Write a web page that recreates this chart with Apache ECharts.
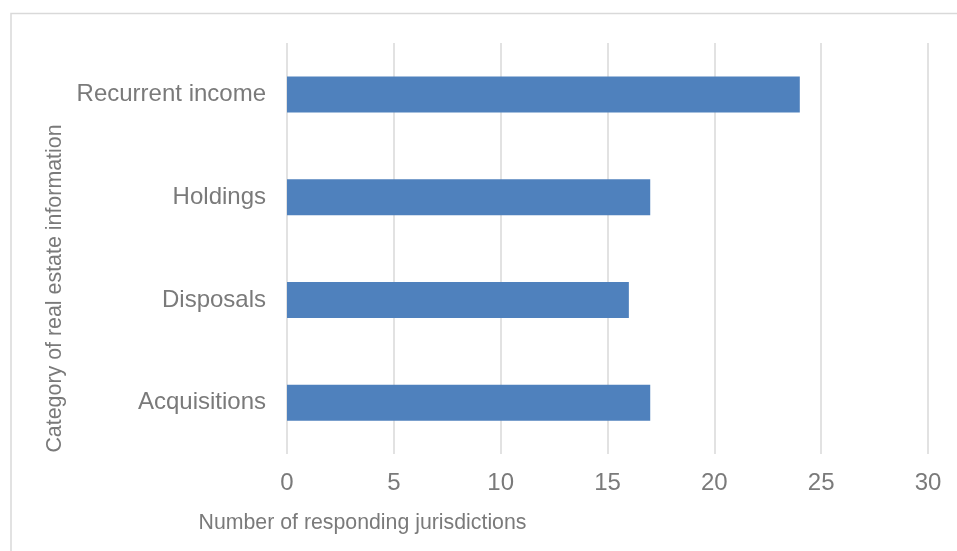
<!DOCTYPE html>
<html>
<head>
<meta charset="utf-8">
<script src="https://cdn.jsdelivr.net/npm/echarts@6/dist/echarts.min.js"></script>
<style>
  html, body { margin: 0; padding: 0; background: #fff; }
  #main { width: 957px; height: 551px; }
</style>
</head>
<body>
<div id="main"></div>
<script>
var categories = ['Acquisitions', 'Disposals', 'Holdings', 'Recurrent income'];
var counts = [17, 16, 17, 24];
var xTicks = [0, 5, 10, 15, 20, 25, 30];

var textGray = '#7a7a7a';
var myChart = echarts.init(document.getElementById('main'));

var option = {
    animation: false,
    textStyle: { fontFamily: 'Liberation Sans, Arial, sans-serif' },
    graphic: [
        {
            type: 'rect',
            z: -1,
            shape: { x: 11, y: 13.5, width: 1000, height: 600 },
            style: { fill: 'none', stroke: '#d9d9d9', lineWidth: 1.5 }
        }
    ],
    grid: {
        left: 287,
        right: 29,
        top: 43,
        bottom: 97
    },
    xAxis: {
        type: 'value',
        min: xTicks[0],
        max: xTicks[xTicks.length - 1],
        interval: 5,
        name: 'Number of responding jurisdictions',
        nameLocation: 'middle',
        nameGap: 59,
        nameTextStyle: { color: textGray, fontSize: 21.3, padding: [0, 490, 0, 0] },
        axisLine: { show: false },
        axisTick: { show: false },
        axisLabel: { color: textGray, fontSize: 24, margin: 17 },
        splitLine: { show: true, lineStyle: { color: '#d9d9d9', width: 1.5 } }
    },
    yAxis: {
        type: 'category',
        data: categories,
        name: 'Category of real estate information',
        nameLocation: 'middle',
        nameGap: 215,
        nameRotate: 90,
        nameTextStyle: { color: textGray, fontSize: 21.4, padding: [0, 80, 0, 0] },
        axisLine: { show: false },
        axisTick: { show: false },
        axisLabel: { color: textGray, fontSize: 24, margin: 21 }
    },
    series: [
        {
            name: 'Number of responding jurisdictions',
            type: 'bar',
            data: counts,
            barWidth: 36,
            itemStyle: { color: '#4f81bd' }
        }
    ]
};
myChart.setOption(option);
</script>
</body>
</html>
